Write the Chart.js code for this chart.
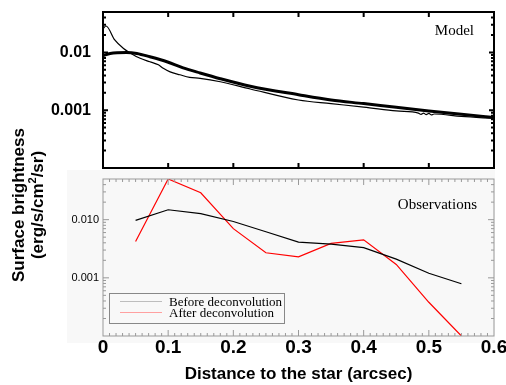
<!DOCTYPE html>
<html>
<head>
<meta charset="utf-8">
<script src="https://cdn.jsdelivr.net/npm/chart.js@4"></script>
<style>
  body { margin: 0; background: #fff; }
  #wrap { position: relative; width: 506px; height: 385px; overflow: hidden; }
  #wrap canvas { position: absolute; left: 0; }
  #obsbg { position: absolute; left: 67px; top: 170px; width: 428px; height: 173px; background: #f8f8f8; }
  #ytitle { position: absolute; left: 28px; top: 205px; width: 260px; transform: translate(-50%, -50%) rotate(-90deg);
            font: bold 17px "Liberation Sans", Arial, sans-serif; line-height: 19px; text-align: center; color: #000; }
  #ytitle sup { font-size: 11px; line-height: 0; }
</style>
</head>
<body>
<div id="wrap">
  <div id="obsbg"></div>
  <canvas id="topChart" width="506" height="175" style="top:0"></canvas>
  <canvas id="botChart" width="506" height="215" style="top:170px"></canvas>
  <div id="ytitle">Surface brightness<br>(erg/s/cm<sup>2</sup>/sr)</div>
</div>
<script>
// top panel: model
const modelThinX = [0, 0.0046, 0.018, 0.031, 0.041, 0.057, 0.072, 0.085, 0.0925, 0.103, 0.118, 0.133, 0.149, 0.18, 0.226, 0.3, 0.35, 0.4, 0.45,
                    0.484, 0.488, 0.492, 0.496, 0.5, 0.504, 0.508, 0.55, 0.6];
const modelThinY = [0.0255, 0.0286, 0.0164, 0.0118, 0.0099, 0.0079, 0.0069, 0.0061, 0.0053, 0.0046, 0.0041, 0.0037, 0.00356, 0.00311, 0.00233, 0.0015, 0.0013, 0.00113, 0.00097,
                    0.00089, 0.00085, 0.00089, 0.00084, 0.00088, 0.00083, 0.00086, 0.00078, 0.00072];
const modelThickX = [0, 0.011, 0.036, 0.052, 0.072, 0.098, 0.123, 0.149, 0.18, 0.226, 0.3, 0.35, 0.4, 0.45, 0.5, 0.55, 0.6];
const modelThickY = [0.0088, 0.0096, 0.0100, 0.0096, 0.0084, 0.0069, 0.0054, 0.0044, 0.0035, 0.0026, 0.00185, 0.0015, 0.0013, 0.00112, 0.00097, 0.00085, 0.00075];

// bottom panel: observations
const obsX = [0.05, 0.1, 0.15, 0.2, 0.25, 0.3, 0.35, 0.4, 0.45, 0.5, 0.55];
const beforeY = [0.0097, 0.0148, 0.0127, 0.0093, 0.0062, 0.0041, 0.0038, 0.0033, 0.0021, 0.0012, 0.00079];
const afterY = [0.0042, 0.050, 0.029, 0.0070, 0.0027, 0.0023, 0.0039, 0.0045, 0.0017, 0.00038, 0.0001];
const legendLineColors = ['#bdbdbd', '#ffa0a0'];

const xTickValues = [0, 0.1, 0.2, 0.3, 0.4, 0.5, 0.6];
const xTickLabels = ['0', '0.1', '0.2', '0.3', '0.4', '0.5', '0.6'];
const yTickValues = [0.001, 0.01];
const yTickLabelsModel = ['0.001', '0.01'];
const yTickLabelsObs = ['0.001', '0.010'];
const yMin = 1e-4, yMax = 0.05;

function pts(xs, ys) { return xs.map((x, i) => ({ x: x, y: ys[i] })); }

// log minor ticks 2..9 in each decade
var logTicks = [];
for (var d = -4; d < -1; d++) {
    for (var k = 1; k < 10; k++) {
        var v = k * Math.pow(10, d);
        if (v <= yMax) logTicks.push({ v: v, major: k === 1 });
    }
}
var xMinor = [];
for (var i = 1; i < 60; i++) xMinor.push(i / 100);

// frame: box + inward ticks on all four sides, panel note, optional legend box
const framePlugin = {
    id: 'frame',
    afterDatasetsDraw(chart, args, o) {
        const { left, right, top, bottom } = chart.chartArea;
        const xs = chart.scales.x, ys = chart.scales.y;
        const c = chart.ctx;
        c.save();
        c.strokeStyle = o.color;
        c.lineWidth = o.width;
        c.strokeRect(left, top, right - left, bottom - top);
        c.beginPath();
        function xt(v, len) {
            const p = xs.getPixelForValue(v);
            if (p <= left + 1 || p >= right - 1) return;
            c.moveTo(p, bottom); c.lineTo(p, bottom - len);
            c.moveTo(p, top); c.lineTo(p, top + len);
        }
        function yt(v, len) {
            const p = ys.getPixelForValue(v);
            if (p <= top + 1 || p >= bottom - 1) return;
            c.moveTo(left, p); c.lineTo(left + len, p);
            c.moveTo(right, p); c.lineTo(right - len, p);
        }
        xTickValues.forEach(v => xt(v, o.major));
        if (o.xMinor) xMinor.forEach(v => { if (Math.round(v * 100) % 10) xt(v, o.minor); });
        logTicks.forEach(t => yt(t.v, t.major ? o.major : o.minor));
        c.stroke();
        // panel note
        c.fillStyle = '#000';
        c.font = '15px "Liberation Serif", serif';
        c.textAlign = 'right';
        c.textBaseline = 'alphabetic';
        c.fillText(o.note, right - o.noteDx, top + o.noteDy);
        if (o.legend) {
            const bx = Math.round(left) + 6, by = Math.round(top) + 114, bw = 176, bh = 31;
            c.fillStyle = '#f8f8f8';
            c.fillRect(bx, by, bw, bh);
            c.strokeStyle = '#888';
            c.lineWidth = 1;
            c.strokeRect(bx + 0.5, by + 0.5, bw - 1, bh - 1);
            c.font = '13px "Liberation Serif", serif';
            c.textAlign = 'left';
            chart.data.datasets.forEach((ds, i) => {
                const y = by + 8.5 + i * 11;
                c.strokeStyle = legendLineColors[i];
                c.beginPath(); c.moveTo(bx + 11, y); c.lineTo(bx + 53, y); c.stroke();
                c.fillStyle = '#000';
                c.fillText(ds.label, bx + 60, y + 4.5);
            });
        }
        c.restore();
    }
};

function yAxis(labels, font, pad) {
    return {
        type: 'logarithmic',
        min: yMin, max: yMax,
        grid: { display: false, drawTicks: false },
        border: { display: false },
        afterBuildTicks: s => { s.ticks = yTickValues.map(v => ({ value: v })); },
        afterFit: s => { s.width = 103; s.paddingTop = 0; s.paddingBottom = 0; },
        ticks: {
            padding: pad,
            color: '#000',
            font: font,
            callback: (v) => { const i = yTickValues.indexOf(v); return i >= 0 ? labels[i] : ''; }
        }
    };
}

new Chart(document.getElementById('topChart'), {
    type: 'line',
    data: {
        datasets: [
            { data: pts(modelThickX, modelThickY), borderColor: '#000', borderWidth: 3, pointRadius: 0, cubicInterpolationMode: 'monotone' },
            { data: pts(modelThinX, modelThinY), borderColor: '#000', borderWidth: 1.2, pointRadius: 0, cubicInterpolationMode: 'monotone' }
        ]
    },
    options: {
        responsive: false,
        animation: false,
        layout: { padding: { left: 0, right: 12, top: 12, bottom: 7 } },
        plugins: {
            legend: { display: false },
            tooltip: { enabled: false },
            frame: { color: '#000', width: 2, major: 5, minor: 3, xMinor: false, note: 'Model', noteDx: 20, noteDy: 23 }
        },
        scales: {
            x: { type: 'linear', min: 0, max: 0.6, display: false },
            y: yAxis(yTickLabelsModel, { family: '"Liberation Sans", Arial, sans-serif', size: 16, weight: 'bold' }, 12)
        }
    },
    plugins: [framePlugin]
});

new Chart(document.getElementById('botChart'), {
    type: 'line',
    data: {
        datasets: [
            { label: 'Before deconvolution', data: pts(obsX, beforeY), borderColor: '#000', borderWidth: 1.2, pointRadius: 0, tension: 0 },
            { label: 'After deconvolution', data: pts(obsX, afterY), borderColor: '#ff0000', borderWidth: 1.2, pointRadius: 0, tension: 0 }
        ]
    },
    options: {
        responsive: false,
        animation: false,
        layout: { padding: { left: 0, right: 12, top: 9, bottom: 0 } },
        plugins: {
            legend: { display: false },
            tooltip: { enabled: false },
            frame: { color: '#999', width: 1, major: 6, minor: 3, xMinor: true, note: 'Observations', noteDx: 17, noteDy: 30, legend: true }
        },
        scales: {
            x: {
                type: 'linear', min: 0, max: 0.6,
                grid: { display: false, drawTicks: false },
                border: { display: false },
                afterBuildTicks: s => { s.ticks = xTickValues.map(v => ({ value: v })); },
                afterFit: s => { s.height = 49; s.paddingLeft = 0; s.paddingRight = 0; },
                ticks: {
                    padding: 0,
                    maxRotation: 0,
                    autoSkip: false,
                    color: '#000',
                    font: { family: '"Liberation Sans", Arial, sans-serif', size: 19, weight: 'bold' },
                    callback: (v) => { const i = xTickValues.indexOf(v); return i >= 0 ? xTickLabels[i] : ''; }
                },
                title: {
                    display: true,
                    text: 'Distance to the star (arcsec)',
                    color: '#000',
                    padding: { top: 6, bottom: 0 },
                    font: { family: '"Liberation Sans", Arial, sans-serif', size: 17, weight: 'bold' }
                }
            },
            y: yAxis(yTickLabelsObs, { family: '"Liberation Sans", Arial, sans-serif', size: 11 }, 4)
        }
    },
    plugins: [framePlugin]
});
</script>
</body>
</html>
